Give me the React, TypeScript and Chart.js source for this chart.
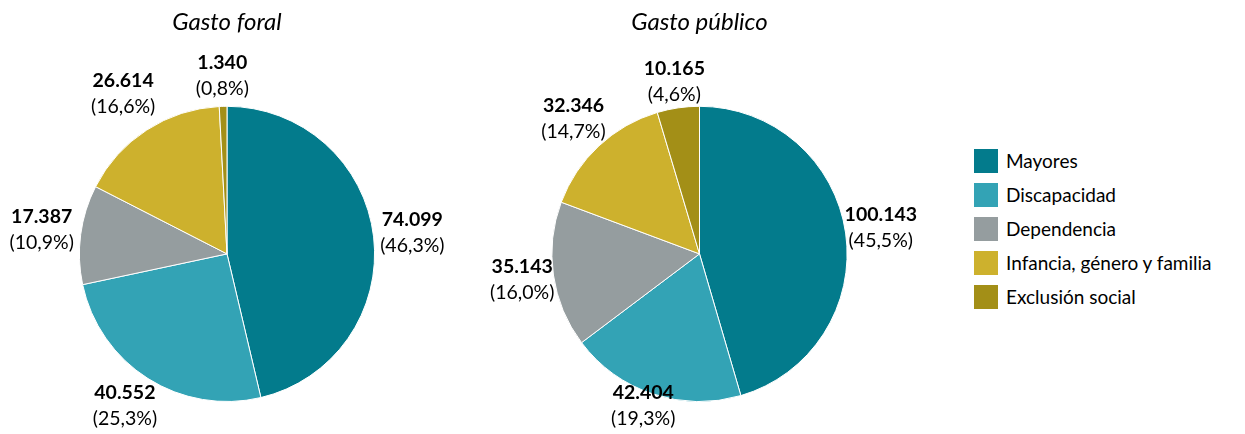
import React, { useEffect, useRef } from "react";
import { Chart, registerables } from "chart.js";

Chart.register(...registerables);

const categories = [
  "Mayores",
  "Discapacidad",
  "Dependencia",
  "Infancia, género y familia",
  "Exclusión social",
];
const gastoForal = [74099, 40552, 17387, 26614, 1340];
const gastoPublico = [100143, 42404, 35143, 32346, 10165];
const chartTitles = ["Gasto foral", "Gasto público"];
const colors = ["#037B8C", "#33A3B5", "#959D9F", "#CDB12D", "#A38F17"];

const FONT = "Lato, 'Noto Sans', sans-serif";
const LABEL_SIZE = 19.5;
const LINE_H = 26;

function fmtNum(v: number): string {
  return String(Math.round(v)).replace(/\B(?=(\d{3})+(?!\d))/g, ".");
}
function fmtPct(f: number): string {
  return (f * 100).toFixed(1).replace(".", ",") + "%";
}

const outLabels = {
  id: "outLabels",
  afterDatasetsDraw(chart: any, _args: any, opts: any) {
    const ctx = chart.ctx as CanvasRenderingContext2D;
    const meta = chart.getDatasetMeta(0);
    const data = chart.data.datasets[0].data as number[];
    const total = data.reduce((a, b) => a + b, 0);
    const gap = opts.gap ?? 4;
    ctx.save();
    ctx.fillStyle = "#000";
    ctx.textAlign = "center";
    ctx.textBaseline = "middle";
    meta.data.forEach((arc: any, i: number) => {
      const p = arc.getProps(["x", "y", "startAngle", "endAngle", "outerRadius"], true);
      const mid = (p.startAngle + p.endAngle) / 2;
      const ux = Math.cos(mid);
      const uy = Math.sin(mid);
      const l1 = fmtNum(data[i]);
      const l2 = "(" + fmtPct(data[i] / total) + ")";
      ctx.font = `bold ${LABEL_SIZE}px ${FONT}`;
      const w1 = ctx.measureText(l1).width;
      ctx.font = `normal ${LABEL_SIZE}px ${FONT}`;
      const w2 = ctx.measureText(l2).width;
      const w = Math.max(w1, w2);
      const h = LINE_H * 2;
      const support = Math.abs(ux) * (w / 2) + Math.abs(uy) * (h / 2);
      const d = p.outerRadius + gap + support;
      let cx = p.x + ux * d;
      let cy = p.y + uy * d;
      cx = Math.min(Math.max(cx, w / 2 + 2), chart.width - w / 2 - 2);
      cy = Math.min(Math.max(cy, h / 2 + 2), chart.height - h / 2 - 2);
      ctx.font = `bold ${LABEL_SIZE}px ${FONT}`;
      ctx.fillText(l1, cx, cy - LINE_H / 2);
      ctx.font = `normal ${LABEL_SIZE}px ${FONT}`;
      ctx.fillText(l2, cx, cy + LINE_H / 2);
    });
    ctx.restore();
  },
};

function PieChart(props: { values: number[]; title: string; width: number; gap: number }) {
  const ref = useRef<HTMLCanvasElement | null>(null);
  useEffect(() => {
    if (!ref.current) return;
    const chart = new Chart(ref.current, {
      type: "pie",
      data: {
        labels: categories,
        datasets: [
          {
            data: props.values,
            backgroundColor: colors,
            borderColor: "#ffffff",
            borderWidth: 1,
          },
        ],
      },
      options: {
        responsive: false,
        animation: false,
        layout: { padding: { top: 0, bottom: 32, left: 0, right: 0 } },
        plugins: {
          legend: { display: false },
          tooltip: { enabled: false },
          title: {
            display: true,
            text: props.title,
            color: "#000",
            font: { family: FONT, size: 24, style: "italic", weight: "normal", lineHeight: 1.2 },
            padding: { top: 8, bottom: 69 },
          },
          outLabels: { gap: props.gap },
        } as any,
      },
      plugins: [outLabels],
    });
    return () => chart.destroy();
  }, []);
  return <canvas ref={ref} width={props.width} height={434} style={{ display: "block" }} />;
}

export default function App() {
  useEffect(() => {
    document.body.style.margin = "0";
  }, []);
  return (
    <div style={{ position: "relative", width: 1245, height: 434, background: "#fff", fontFamily: FONT }}>
      <div style={{ position: "absolute", left: 0, top: 0 }}>
        <PieChart values={gastoForal} title={chartTitles[0]} width={454} gap={4} />
      </div>
      <div style={{ position: "absolute", left: 460, top: 0 }}>
        <PieChart values={gastoPublico} title={chartTitles[1]} width={479} gap={-4} />
      </div>
      <div style={{ position: "absolute", left: 974, top: 149 }}>
        {categories.map((c, i) => (
          <div key={c} style={{ display: "flex", alignItems: "center", height: 24, marginBottom: 10 }}>
            <div style={{ width: 24, height: 24, background: colors[i], flex: "none" }} />
            <span style={{ marginLeft: 8, fontSize: 19, color: "#000", whiteSpace: "nowrap", lineHeight: "24px" }}>{c}</span>
          </div>
        ))}
      </div>
    </div>
  );
}
